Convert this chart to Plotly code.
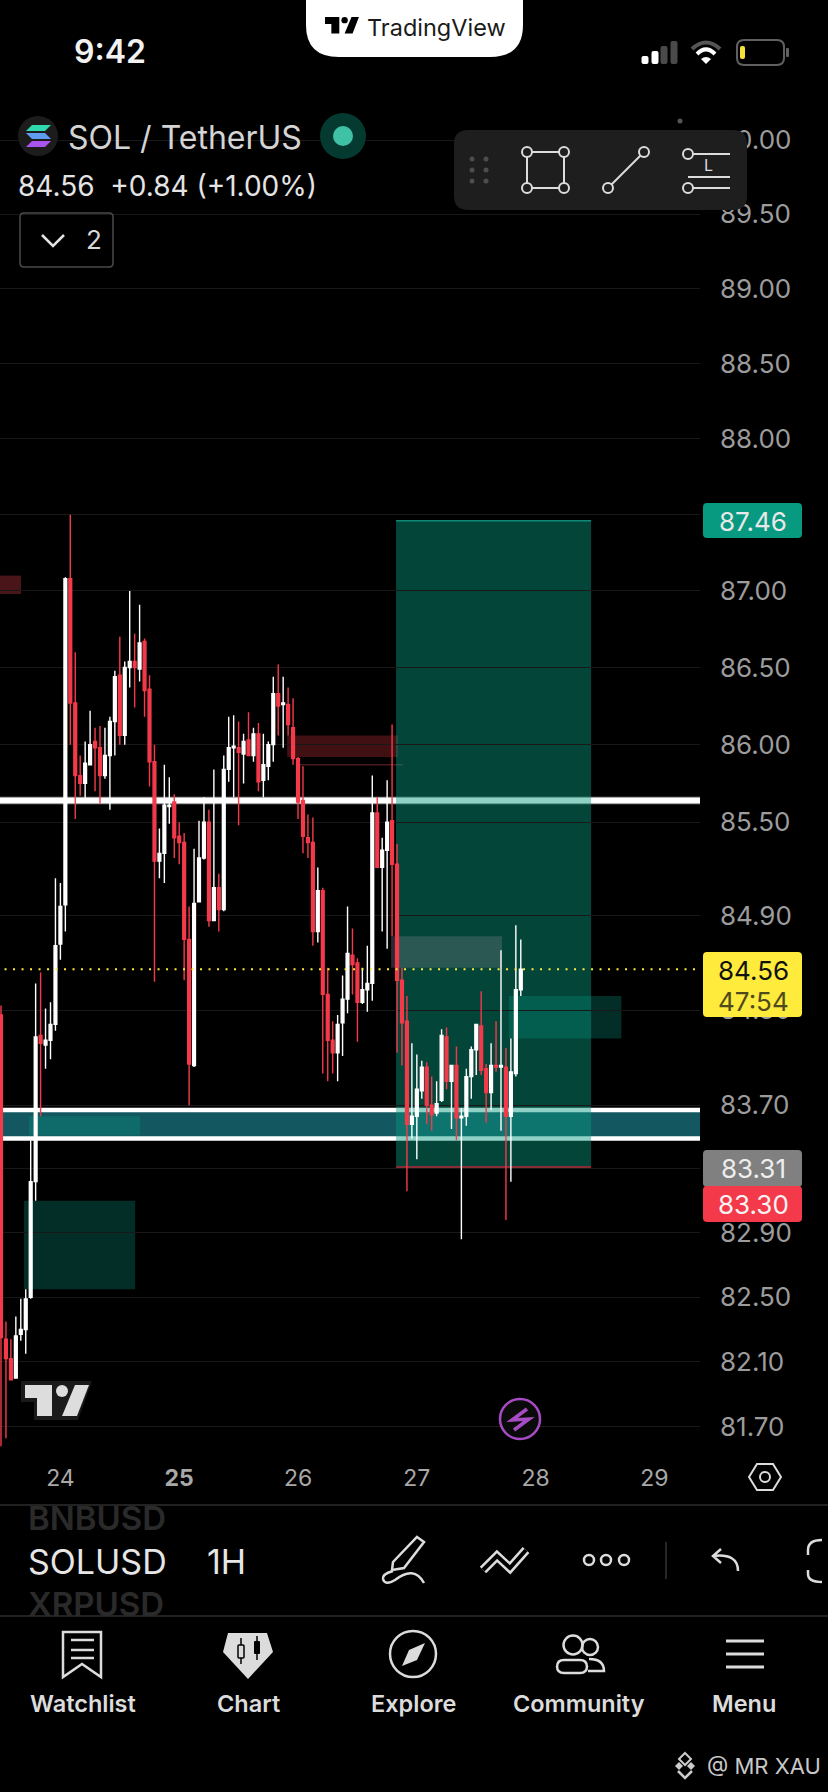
import pandas as pd
import plotly.graph_objects as go

W, H = 828, 1792

# SOLUSDT 1H candles
opens = [84.27, 82.24, 82.12, 82.00, 82.27, 82.30, 82.50, 83.22, 84.14, 84.08,
         84.11, 84.21, 84.72, 84.97, 87.08, 86.27, 85.80, 85.75, 85.87, 86.02,
         85.98, 85.80, 85.93, 86.15, 86.45, 86.06, 86.50, 86.54, 86.49, 86.67,
         86.36, 85.89, 85.25, 85.30, 85.60, 85.63, 85.41, 85.37, 84.75, 83.95,
         84.99, 85.27, 85.50, 84.87, 85.08, 84.94, 85.84, 85.98, 85.98, 85.94,
         86.03, 85.93, 86.07, 85.77, 85.86, 86.00, 86.33, 86.26, 86.26, 86.11,
         85.91, 85.64, 85.40, 85.37, 84.80, 85.06, 84.40, 84.11, 84.03, 84.22,
         84.37, 84.65, 84.60, 84.35, 84.43, 84.47, 85.56, 85.21, 85.32, 85.51,
         85.23, 84.49, 84.23, 83.58, 83.63, 83.79, 83.94, 83.70, 83.65, 83.73,
         84.13, 83.85, 83.95, 83.62, 83.63, 83.88, 84.05, 84.20, 83.93, 83.78,
         83.95, 83.94, 83.94, 83.63, 83.90, 84.43]
highs = [84.33, 82.35, 82.24, 82.38, 82.49, 82.55, 83.48, 84.47, 84.54, 84.31,
         84.35, 85.14, 85.11, 87.09, 87.50, 86.60, 85.93, 86.02, 86.22, 86.11,
         86.12, 86.11, 86.18, 86.48, 86.70, 86.54, 87.00, 86.72, 86.91, 86.69,
         86.45, 86.00, 85.46, 85.87, 85.79, 85.68, 85.50, 85.43, 84.96, 85.33,
         85.51, 85.66, 85.58, 85.84, 85.17, 85.93, 86.18, 86.19, 86.15, 86.07,
         86.21, 86.11, 86.14, 86.07, 86.02, 86.44, 86.52, 86.44, 86.37, 86.30,
         85.92, 85.86, 85.55, 85.53, 85.21, 85.08, 84.57, 84.23, 84.27, 84.52,
         84.96, 84.82, 84.63, 84.57, 84.71, 85.80, 85.66, 85.40, 85.77, 86.13,
         85.36, 84.57, 84.39, 84.09, 84.02, 83.98, 83.97, 83.88, 83.85, 84.18,
         84.19, 83.95, 84.07, 83.68, 83.93, 84.07, 84.21, 84.42, 83.96, 84.09,
         84.23, 84.68, 84.06, 84.12, 84.84, 84.75]
lows = [81.58, 81.63, 81.99, 82.00, 82.23, 82.15, 82.49, 83.10, 83.63, 83.93,
        83.99, 84.17, 84.62, 84.80, 86.00, 85.52, 85.67, 85.64, 85.87, 85.70,
        85.62, 85.78, 85.58, 85.93, 86.00, 86.00, 86.37, 86.24, 86.41, 86.18,
        85.73, 84.48, 85.14, 85.11, 85.49, 85.27, 85.23, 84.49, 83.70, 83.94,
        84.99, 85.26, 84.83, 84.87, 84.80, 84.93, 85.76, 85.66, 85.48, 85.75,
        85.93, 85.89, 85.70, 85.66, 85.77, 85.89, 86.06, 85.98, 86.06, 85.87,
        85.52, 85.30, 85.27, 84.71, 84.73, 83.90, 83.85, 83.90, 83.85, 84.01,
        84.28, 84.40, 84.10, 84.34, 84.29, 84.36, 85.21, 84.80, 84.69, 84.77,
        84.03, 83.95, 83.16, 83.49, 83.36, 83.74, 83.58, 83.54, 83.63, 83.72,
        83.80, 83.55, 83.48, 82.86, 83.57, 83.74, 83.89, 83.89, 83.59, 83.67,
        83.91, 83.54, 82.98, 83.22, 83.88, 84.39]
closes = [82.25, 82.12, 81.99, 82.26, 82.30, 82.49, 83.22, 84.13, 84.09, 84.11,
          84.21, 84.71, 84.96, 87.08, 86.27, 85.80, 85.75, 85.88, 86.00, 85.98,
          85.80, 85.93, 86.15, 86.44, 86.06, 86.50, 86.54, 86.50, 86.66, 86.35,
          85.89, 85.25, 85.30, 85.61, 85.61, 85.40, 85.37, 84.75, 83.96, 84.98,
          85.27, 85.50, 84.87, 85.08, 84.94, 85.84, 85.98, 85.99, 85.95, 86.02,
          85.93, 86.07, 85.76, 85.87, 86.00, 86.33, 86.25, 86.27, 86.13, 85.91,
          85.63, 85.41, 85.37, 84.80, 85.06, 84.40, 84.11, 84.03, 84.21, 84.37,
          84.66, 84.59, 84.35, 84.43, 84.47, 85.56, 85.21, 85.32, 85.50, 85.23,
          84.49, 84.22, 83.58, 83.63, 83.80, 83.94, 83.70, 83.64, 83.71, 84.14,
          83.85, 83.95, 83.62, 83.63, 83.88, 84.05, 84.21, 83.92, 83.78, 83.95,
          83.94, 83.95, 83.63, 83.91, 84.43, 84.56]

price_ticks = [81.70, 82.10, 82.50, 82.90, 83.30, 83.70, 84.30, 84.90, 85.50, 86.00,
               86.50, 87.00, 87.50, 88.00, 88.50, 89.00, 89.50, 90.00]
hidden_ticks = [83.30, 87.50]
day_ticks = ["2026-03-24", "2026-03-25", "2026-03-26", "2026-03-27", "2026-03-28", "2026-03-29"]
day_labels = ["24", "<b>25</b>", "26", "27", "28", "29"]

times = pd.date_range("2026-03-23 12:00", periods=len(opens), freq="h")

GREEN = "rgba(8,153,129,0.45)"
RED = "#f43a4a"
LIGHT = "#dcdcdc"
FONT = "Inter"


def t(i):
    # candle index (may be fractional) to a date string for the axis
    return (times[0] + pd.Timedelta(hours=i)).strftime("%Y-%m-%d %H:%M:%S")


def px(x):
    return x / W


def py(y):
    return 1 - y / H


shapes = []
notes = []


def zone(i0, i1, p0, p1, fill, layer="below"):
    shapes.append(dict(type="rect", xref="x", yref="y", x0=t(i0), x1=t(i1), y0=p0, y1=p1,
                       fillcolor=fill, line_width=0, layer=layer))


def level(i0, i1, p, color, width, dash="solid", layer="below"):
    shapes.append(dict(type="line", xref="x", yref="y", x0=t(i0), x1=t(i1), y0=p, y1=p,
                       line=dict(color=color, width=width, dash=dash), layer=layer))


def path(d, fill=None, color=None, width=0):
    shapes.append(dict(type="path", xref="paper", yref="paper", path=d, fillcolor=fill,
                       line=dict(color=color, width=width), layer="above"))


def poly(pts, fill=None, color=None, width=0, closed=True):
    d = "M" + " L".join(f"{px(a):.5f},{py(b):.5f}" for a, b in pts)
    path(d + (" Z" if closed else ""), fill, color, width)


def curve(cmds, fill=None, color=None, width=0):
    # cmds is a list like ("M", x, y) / ("L", x, y) / ("Q", cx, cy, x, y)
    d = []
    for c in cmds:
        vals = c[1:]
        pairs = [f"{px(vals[k]):.5f},{py(vals[k + 1]):.5f}" for k in range(0, len(vals), 2)]
        d.append(c[0] + " ".join(pairs))
    path(" ".join(d), fill, color, width)


def rrect(x0, y0, x1, y1, r, fill=None, color=None, width=0):
    curve([("M", x0 + r, y0), ("L", x1 - r, y0), ("Q", x1, y0, x1, y0 + r), ("L", x1, y1 - r),
           ("Q", x1, y1, x1 - r, y1), ("L", x0 + r, y1), ("Q", x0, y1, x0, y1 - r),
           ("L", x0, y0 + r), ("Q", x0, y0, x0 + r, y0)], fill, color, width)


def dot(x, y, r, fill=None, color=None, width=0):
    shapes.append(dict(type="circle", xref="paper", yref="paper", x0=px(x - r), x1=px(x + r),
                       y0=py(y + r), y1=py(y - r), fillcolor=fill,
                       line=dict(color=color, width=width), layer="above"))


def txt(x, y, s, size, color=LIGHT, anchor="center", weight=400, family=FONT):
    notes.append(dict(xref="paper", yref="paper", x=px(x), y=py(y), text=s, showarrow=False,
                      xanchor=anchor, yanchor="middle", borderpad=0,
                      font=dict(family=family, size=size, color=color, weight=weight)))


def tv_logo(x, y, k, color):
    poly([(x, y), (x + 27 * k, y), (x + 27 * k, y + 31 * k), (x + 12 * k, y + 31 * k),
          (x + 12 * k, y + 13 * k), (x, y + 13 * k)], fill=color)
    dot(x + 37 * k, y + 6 * k, 6 * k, fill=color)
    poly([(x + 50 * k, y), (x + 64 * k, y), (x + 52 * k, y + 31 * k), (x + 37 * k, y + 31 * k)], fill=color)


# chart drawings, prices on the log axis
zone(-1, 4.04, 87.10, 86.98, "#4a1519")
zone(57.8, 80.2, 86.06, 85.92, "rgba(200,50,60,0.32)")
level(60.4, 81.2, 85.87, "#4a1a1e", 1.5)
zone(-1, 142, 83.67, 83.49, "#135860")
zone(5.66, 28.1, 83.63, 83.51, "rgba(8,153,129,0.3)")
zone(4.65, 27.1, 83.10, 82.55, "rgba(8,153,129,0.3)")
level(-1, 142, 85.64, "#8c8c8c", 7.5)
level(-1, 142, 85.64, "#ffffff", 5.5)
level(-1, 142, 83.67, "#ffffff", 4.5)
level(-1, 142, 83.49, "#ffffff", 4.5)
zone(79.8, 119.2, 87.46, 83.31, GREEN)
level(79.8, 119.2, 87.46, "#0d8a76", 1.5)
level(79.8, 119.2, 83.31, "#8a2b35", 2.5)
zone(78.8, 101.2, 84.77, 84.57, "rgba(120,123,134,0.35)")
zone(102.6, 125.3, 84.39, 84.12, "rgba(8,153,129,0.3)")
level(-1, 142, 84.56, "#ffeb3b", 2, dash="2px,6.5px", layer="above")

# price badges
rrect(703, 503, 802, 538, 4, fill="#089981")
txt(753, 521, "87.46", 26, "#e8e8e8")
rrect(703, 952, 802, 1017, 4, fill="#ffeb3b")
txt(753, 970, "84.56", 26, "#111111")
txt(753, 1001, "47:54", 26, "#4f4a1e")
rrect(703, 1150, 802, 1187, 4, fill="#808080")
txt(753, 1168, "83.31", 26, "#eeeeee")
rrect(703, 1186, 802, 1222, 4, fill="#f43a4a")
txt(753, 1204, "83.30", 26, "#f4f4f4")

# status bar
curve([("M", 306, -2), ("L", 523, -2), ("L", 523, 25), ("Q", 523, 57, 490, 57), ("L", 339, 57),
       ("Q", 306, 57, 306, 25), ("Z",)], fill="#ffffff")
tv_logo(325, 17, 0.53, "#000000")
txt(436, 27, "TradingView", 23.5, "#1a1a1a")
txt(110, 52, "9:42", 32, "#f2f2f2", weight=600)
for bx, top, col in [(645, 56, "#ffffff"), (655, 51, "#ffffff"), (664, 46, "#4a4a4a"), (674, 41, "#4a4a4a")]:
    rrect(bx - 3.5, top, bx + 3.5, 64, 2, fill=col)
curve([("M", 692, 49), ("Q", 706, 36, 720, 49)], color="#555555", width=4)
curve([("M", 697, 54), ("Q", 706, 45, 715, 54)], color="#ffffff", width=4)
curve([("M", 706, 64), ("L", 701, 59), ("Q", 706, 55, 711, 59), ("Z",)], fill="#ffffff")
rrect(737, 40, 784, 65, 7, color="#606060", width=2)
rrect(740, 46, 745, 59, 2, fill="#f4e23a")
rrect(786, 48, 789, 57, 1, fill="#606060")

# symbol header
dot(38, 136, 20, fill="#1c1c1c")
poly([(32, 125), (51, 125), (45, 131), (26, 131)], fill="#2fd9b0")
poly([(26, 133), (45, 133), (51, 139), (32, 139)], fill="#5f9cf0")
poly([(32, 141), (51, 141), (45, 147), (26, 147)], fill="#a855f0")
txt(67, 137, "SOL / TetherUS", 32, "#d4d4d4", anchor="left")
dot(343, 136, 23, fill="#053a30")
dot(343, 136, 10, fill="#3fc1a6")
txt(17, 186, "84.56&nbsp;&nbsp;+0.84 (+1.00%)", 28, "#e4e4e4", anchor="left")
rrect(20, 213, 113, 267, 4, color="#4a4a4a", width=1.5)
poly([(42, 235), (53, 246), (64, 235)], color="#e4e4e4", width=2.5, closed=False)
txt(94, 240, "2", 26, "#d8d8d8")
dot(680, 121, 2.5, fill="#555555")

# drawing toolbar
rrect(454, 130, 747, 210, 14, fill="#1e1e1e")
for dx in [472, 486]:
    for dy in [159, 170, 181]:
        dot(dx, dy, 2.5, fill="#4d4d4d")
poly([(527, 152), (564, 152), (564, 188), (527, 188)], color=LIGHT, width=2)
for cx, cy in [(527, 152), (564, 152), (527, 188), (564, 188)]:
    dot(cx, cy, 5, fill="#1e1e1e", color=LIGHT, width=2)
poly([(608, 188), (644, 152)], color=LIGHT, width=2, closed=False)
dot(608, 188, 5, fill="#1e1e1e", color=LIGHT, width=2)
dot(644, 152, 5, fill="#1e1e1e", color=LIGHT, width=2)
poly([(692, 154), (730, 154)], color=LIGHT, width=2, closed=False)
poly([(688, 177), (730, 177)], color=LIGHT, width=2, closed=False)
poly([(692, 188), (730, 188)], color=LIGHT, width=2, closed=False)
dot(688, 154, 5, fill="#1e1e1e", color=LIGHT, width=2)
dot(688, 188, 5, fill="#1e1e1e", color=LIGHT, width=2)
txt(708, 165, "L", 16, LIGHT)

# watermark logo and lightning button on the chart
poly([(21, 1381), (92, 1381), (78, 1420), (34, 1420), (34, 1402), (21, 1402)], fill="#1a1a1a")
tv_logo(25, 1385, 1, "#dddddd")
dot(520, 1419, 20, fill="#0a0a0a", color="#a64bc4", width=2.5)
poly([(527, 1409), (512, 1420), (529, 1419), (514, 1430)], color="#a64bc4", width=3.5, closed=False)

# time scale corner and separators
poly([(757, 1464), (773, 1464), (781, 1477), (773, 1490), (757, 1490), (749, 1477)], color=LIGHT, width=2)
dot(765, 1477, 5, color=LIGHT, width=2)
poly([(0, 1505), (828, 1505)], color="#2e2e2e", width=1.5, closed=False)
poly([(0, 1616), (828, 1616)], color="#2e2e2e", width=1.5, closed=False)

# symbol / interval bar
txt(27, 1518, "BNBUSD", 33, "#2a2a2a", anchor="left", weight=600)
txt(27, 1561, "SOLUSD", 34, "#e6e6e6", anchor="left", weight=400)
txt(27, 1604, "XRPUSD", 33, "#2a2a2a", anchor="left", weight=600)
txt(226, 1561, "1H", 34, "#e6e6e6", weight=400)
poly([(417, 1537), (424, 1542), (404, 1568), (392, 1570), (393, 1562)], color=LIGHT, width=2.5)
curve([("M", 393, 1571), ("Q", 382, 1574, 383, 1579), ("Q", 385, 1586, 395, 1580),
       ("Q", 414, 1565, 424, 1583)], color=LIGHT, width=2.5)
poly([(483, 1570), (497, 1556), (510, 1568), (526, 1550)], color=LIGHT, width=9, closed=False)
poly([(483, 1570), (497, 1556), (510, 1568), (526, 1550)], color="#000000", width=4, closed=False)
for dx in [589, 606, 624]:
    dot(dx, 1560, 5, color=LIGHT, width=2.5)
poly([(666, 1542), (666, 1579)], color="#333333", width=1.5, closed=False)
curve([("M", 721, 1549), ("L", 713, 1556), ("L", 721, 1563), ("M", 713, 1556),
       ("Q", 738, 1553, 738, 1571)], color=LIGHT, width=2.5)
curve([("M", 822, 1540), ("Q", 808, 1540, 808, 1550), ("L", 808, 1555)], color=LIGHT, width=2.5)
curve([("M", 808, 1570), ("L", 808, 1574), ("Q", 808, 1582, 822, 1582)], color=LIGHT, width=2.5)

# bottom navigation
poly([(63, 1632), (101, 1632), (101, 1677), (82, 1664), (63, 1677)], color=LIGHT, width=2.5)
for ly in [1640, 1650, 1658]:
    poly([(71, ly), (94, ly)], color=LIGHT, width=2.5, closed=False)
poly([(228, 1633), (267, 1633), (273, 1652), (248, 1679), (223, 1652)], fill=LIGHT)
poly([(241, 1638), (241, 1664)], color="#000000", width=1.5, closed=False)
rrect(238, 1645, 244, 1658, 1, fill=LIGHT, color="#000000", width=1.5)
poly([(257, 1636), (257, 1660)], color="#000000", width=1.5, closed=False)
rrect(254, 1641, 260, 1654, 1, fill="#000000")
dot(413, 1654, 23, color=LIGHT, width=2.5)
poly([(425, 1643), (417, 1660), (402, 1666), (409, 1650)], fill=LIGHT)
dot(573, 1645, 9.5, color=LIGHT, width=2.5)
dot(590, 1647, 8, color=LIGHT, width=2.5)
rrect(557, 1660, 587, 1673, 7, color=LIGHT, width=2.5)
curve([("M", 589, 1659), ("Q", 604, 1659, 604, 1671), ("L", 588, 1671)], color=LIGHT, width=2.5)
for ly in [1641, 1654, 1667]:
    poly([(726, ly), (764, ly)], color=LIGHT, width=3, closed=False)
for nx, name in zip([83, 248, 413, 579, 744], ["Watchlist", "Chart", "Explore", "Community", "Menu"]):
    txt(nx, 1703, name, 23.5, LIGHT, weight=600)

# binance watermark
poly([(685, 1753), (691, 1759), (685, 1765), (679, 1759)], color="#cccccc", width=2)
poly([(675, 1766), (679, 1762), (683, 1766), (679, 1770)], fill="#cccccc")
poly([(687, 1766), (691, 1762), (695, 1766), (691, 1770)], fill="#cccccc")
poly([(678, 1771), (685, 1778), (692, 1771)], color="#cccccc", width=2.5, closed=False)
txt(706, 1766, "@ MR XAU", 22, "#c8c8c8", anchor="left")

fig = go.Figure(go.Candlestick(
    x=times, open=opens, high=highs, low=lows, close=closes,
    increasing=dict(line=dict(color="#ffffff", width=1.4), fillcolor="#ffffff"),
    decreasing=dict(line=dict(color=RED, width=1.4), fillcolor=RED),
    showlegend=False, hoverinfo="skip",
))

fig.update_layout(
    width=W, height=H, margin=dict(l=0, r=0, t=0, b=0),
    paper_bgcolor="#000000", plot_bgcolor="#000000",
    font=dict(family=FONT, color="#a0a0a0"),
    shapes=shapes, annotations=notes, boxgap=0.2,
    xaxis=dict(
        domain=[0, 700 / W], range=[t(-0.2), t(141.2)], type="date",
        rangeslider=dict(visible=False), showgrid=False, zeroline=False, showline=False,
        tickmode="array", tickvals=day_ticks, ticktext=day_labels, ticks="",
        tickfont=dict(size=23, color="#a8a8a8"), ticklabelstandoff=10, tickangle=0,
    ),
    yaxis=dict(
        domain=[1 - 1452 / H, 1 - 100 / H], type="log", range=[1.9114, 1.95555],
        side="right", showline=False, zeroline=False, showgrid=True, gridcolor="#181818", gridwidth=1,
        tickmode="array", tickvals=price_ticks,
        ticktext=["" if v in hidden_ticks else f"{v:.2f}" for v in price_ticks],
        ticks="", tickfont=dict(size=26, color="#9c9c9c"), ticklabelstandoff=19,
    ),
)

fig.write_html("out.html", config=dict(displayModeBar=False),
               post_script="document.body.style.margin='0';document.body.style.background='#000';")
